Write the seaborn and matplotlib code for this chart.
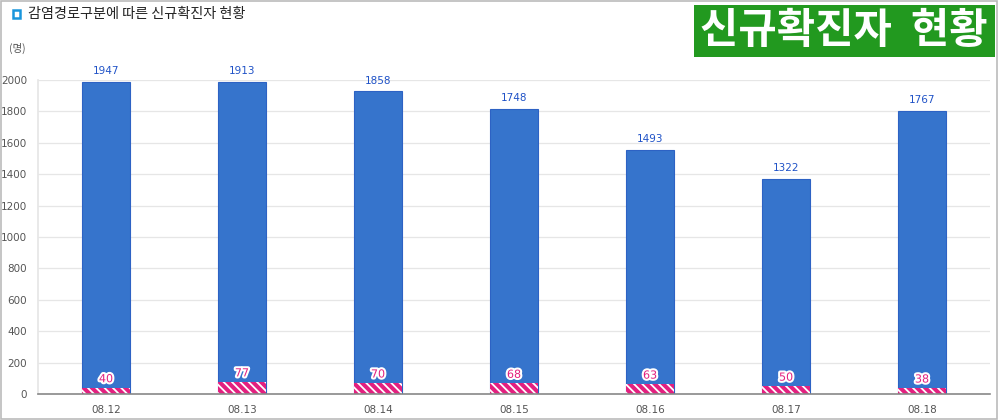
import pandas as pd
import matplotlib
matplotlib.use("Agg")
import matplotlib.pyplot as plt
import matplotlib.patheffects as pe
from matplotlib.patches import Rectangle
import seaborn as sns

# 데이터
dates = ["08.12", "08.13", "08.14", "08.15", "08.16", "08.17", "08.18"]
domestic = [1947, 1913, 1858, 1748, 1493, 1322, 1767]
imported = [40, 77, 70, 68, 63, 50, 38]
yticks = [0, 200, 400, 600, 800, 1000, 1200, 1400, 1600, 1800, 2000]

BLUE = "#3674cc"
PINK = "#e3207f"
GRID = "#e6e6e6"
TXT = "#555555"

df = pd.DataFrame({"date": dates, "domestic": domestic, "imported": imported})
df["total"] = df["domestic"] + df["imported"]

sns.set_theme(style="white")
plt.rcParams["font.family"] = ["Noto Sans CJK KR", "DejaVu Sans"]
plt.rcParams["hatch.color"] = "#f7b3d3"
plt.rcParams["hatch.linewidth"] = 1.3

fig = plt.figure(figsize=(10, 4.2), dpi=100)
ax = fig.add_axes([0.038, 0.062, 0.952, 0.7476])

sns.barplot(data=df, x="date", y="total", color=BLUE, width=0.36,
            edgecolor="#2d62c4", linewidth=0.8, saturation=1, ax=ax)
sns.barplot(data=df, x="date", y="imported", color=PINK, width=0.36,
            hatch="\\\\\\\\", linewidth=0, saturation=1, ax=ax)

ax.set_xlim(-0.5, 6.5)
ax.set_ylim(0, 2000)
ax.set_yticks(yticks)
ax.set_yticklabels([str(v) for v in yticks], fontsize=7.5, color=TXT, family="DejaVu Sans")
ax.tick_params(axis="x", labelsize=7.5, colors=TXT, length=0, pad=8)
ax.tick_params(axis="y", length=6, width=0.8, color="#999999", pad=2)
for lab in ax.get_xticklabels():
    lab.set_family("DejaVu Sans")
ax.yaxis.grid(True, color=GRID, linewidth=0.9)
ax.set_axisbelow(True)
ax.set_xlabel("")
ax.set_ylabel("")
for s in ["top", "right"]:
    ax.spines[s].set_visible(False)
ax.spines["left"].set_color(GRID)
ax.spines["bottom"].set_color("#888888")
ax.spines["bottom"].set_linewidth(1.2)

# 값 라벨
for i, row in df.iterrows():
    ax.annotate(str(row["domestic"]), (i, row["total"]), xytext=(0, 4),
                textcoords="offset points", ha="center", va="bottom",
                fontsize=7.5, color="#1f52c7", family="DejaVu Sans",
                annotation_clip=False)
    ax.annotate(str(row["imported"]), (i, row["imported"]), xytext=(0, 2.5),
                textcoords="offset points", ha="center", va="bottom",
                fontsize=8, color=PINK, family="DejaVu Sans",
                path_effects=[pe.withStroke(linewidth=3, foreground="white")])

# 제목
fig.patches.append(Rectangle((12.5 / 1000, 1 - 18 / 420), 7.5 / 1000, 7.5 / 420,
                             transform=fig.transFigure, facecolor="white",
                             edgecolor="#1a96dc", linewidth=1.8))
fig.text(0.028, 1 - 14 / 420, "감염경로구분에 따른 신규확진자 현황", fontsize=10.2,
         color="#222222", va="center", ha="left", fontweight="medium")
fig.text(0.009, 1 - 48 / 420, "(명)", fontsize=7.5, color=TXT, va="center", ha="left")

# 우측 상단 배너
fig.patches.append(Rectangle((694 / 1000, 1 - 57 / 420), 301 / 1000, 52 / 420,
                             transform=fig.transFigure, facecolor="#22991f",
                             edgecolor="none"))
fig.text(844 / 1000, 1 - 31 / 420, "신규확진자  현황", fontsize=30,
         fontweight="heavy", color="white", va="center", ha="center")

# 테두리
fig.patches.append(Rectangle((0.001, 0.002), 0.996, 0.995, transform=fig.transFigure,
                             fill=False, edgecolor="#bbbbbb", linewidth=1.2))

fig.savefig("out.png", dpi=100)
